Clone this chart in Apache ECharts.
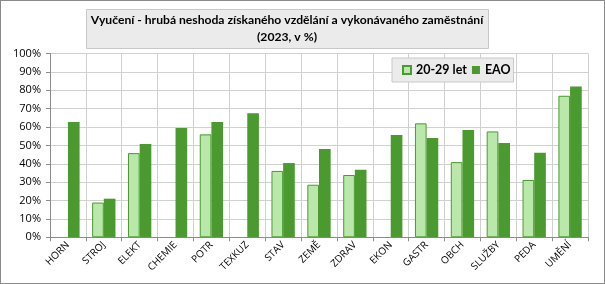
<!DOCTYPE html>
<html><head><meta charset="utf-8">
<script src="https://cdn.jsdelivr.net/npm/echarts@6/dist/echarts.min.js"></script>
<style>html,body{margin:0;padding:0;background:#fff}#c{width:605px;height:284px;box-sizing:border-box;border:1px solid #8a8a8a}</style>
</head><body><div id="c"></div>
<script>
const categories = ['HORN','STROJ','ELEKT','CHEMIE','POTR','TEXKUZ','STAV','ZEMĚ','ZDRAV','EKON','GASTR','OBCH','SLUŽBY','PEDA','UMĚNÍ'];
const young = [null,18.9,45.8,null,56.0,null,36.1,28.6,33.9,null,62.0,40.9,57.6,31.2,77.0];
const eao = [62.7,21.0,50.8,59.4,62.7,67.5,40.4,48.1,36.8,55.7,54.0,58.4,51.3,46.0,82.1];
const yTicks = [0,10,20,30,40,50,60,70,80,90,100];
const titleLines = ['Vyučení - hrubá neshoda získaného vzdělání a vykonávaného zaměstnání','(2023, v %)'];
const seriesNames = ['20-29 let','EAO'];

const font = 'Lato, "Open Sans", sans-serif';
function fitSize(text, target, weight){
  const ctx = document.createElement('canvas').getContext('2d');
  ctx.font = weight + ' 100px ' + font;
  const w = ctx.measureText(text).width;
  return Math.min(15, Math.max(9, target / w * 100));
}
const titleSize = fitSize(titleLines[0], 393, 'bold');
const legendSize = fitSize('20-29 let', 51, 'bold');

const chart = echarts.init(document.getElementById('c'), null, {renderer:'canvas'});
chart.setOption({
  animation:false,
  textStyle:{fontFamily:font},
  graphic:[{type:'rect', left:85, top:8, shape:{width:402, height:39}, style:{fill:'#ebebeb', stroke:'#c8c8c8', lineWidth:1}, z:0}],
  title:{
    text: titleLines.join('\n'),
    left: 286, top: 11, textAlign:'center',
    padding:0,
    textStyle:{fontFamily:font, fontSize:titleSize, fontWeight:'bold', color:'#000', lineHeight:17}
  },
  legend:{
    data: seriesNames,
    left: 391, top: 57,
    backgroundColor:'#ebebeb', borderColor:'#c8c8c8', borderWidth:1,
    padding:[6,3,6,10],
    itemWidth:8, itemHeight:8, itemGap:5,
    icon:'rect',
    textStyle:{fontFamily:font, fontSize:legendSize, fontWeight:'bold', color:'#000'}
  },
  grid:{left:49, right:16, top:52.5, bottom:45.7, containLabel:false},
  xAxis:{
    type:'category', data:categories,
    axisLine:{lineStyle:{color:'#8c8c8c'}},
    axisTick:{show:true, length:4, lineStyle:{color:'#8c8c8c'}},
    splitLine:{show:true, lineStyle:{color:'#d0d0d0'}},
    axisLabel:{rotate:45, fontSize:10, color:'#000', margin:6, interval:0, fontFamily:'"Open Sans", sans-serif'}
  },
  yAxis:{
    type:'value', min:0, max:100, interval:10,
    axisLine:{show:true, lineStyle:{color:'#8c8c8c'}},
    axisTick:{show:true, length:4, lineStyle:{color:'#8c8c8c'}},
    splitLine:{lineStyle:{color:'#d0d0d0'}},
    axisLabel:{fontSize:11, color:'#000', margin:9, formatter: v => yTicks.includes(v) ? v + '%' : '', fontFamily:'"Open Sans", sans-serif'}
  },
  series:[
    {name:seriesNames[0], type:'bar', data:young, barGap:'0%', barCategoryGap:'35%',
     itemStyle:{color:'#b9e8aa', borderColor:'#4a9a30', borderWidth:1}},
    {name:seriesNames[1], type:'bar', data:eao, barGap:'0%', barCategoryGap:'35%',
     itemStyle:{color:'#4a9a2f'}}
  ]
});
</script></body></html>
